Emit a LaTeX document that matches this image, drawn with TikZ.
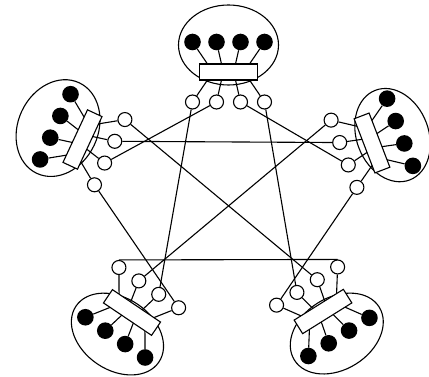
\documentclass[tikz,border=0pt]{standalone}
\tikzset{
  lnk/.style={line width=1.1pt},
  blackdot/.style={circle,fill=black,inner sep=0pt,minimum size=16.6pt},
  whitecirc/.style={circle,draw,line width=1.1pt,fill=white,inner sep=0pt,minimum size=14pt},
  plate/.style={draw,line width=1.1pt,fill=white}
}
\newcommand\mygroup[7]{%
  \begin{scope}[shift={(#2,#3)},rotate=#4]
    \draw[lnk] (0,#5) ellipse [x radius=#6, y radius=#7];
    \foreach \k/\u/\w in {1/-36/-21,2/-12/-7,3/12/7,4/36/21}{
      \node[blackdot] (#1d\k) at (\u,-30) {};
      \node[whitecirc] (#1\k) at (\u,30) {};
      \draw[lnk] (#1d\k) -- (\w,-8);
      \draw[lnk] (\w,8) -- (#1\k);
    }
    \draw[plate] (-29,-8) rectangle (29,8);
  \end{scope}%
}
\begin{document}
\begin{tikzpicture}[x=1pt,y=-1pt]
  \useasboundingbox (0,0) rectangle (429,377);
  \mygroup{T}{228.5}{72}{0}{-27}{50}{40}
  \mygroup{L}{82.5}{139.5}{65}{-27}{50}{40}
  \mygroup{R}{372}{143}{-69}{-22}{48}{36}
  \mygroup{BL}{132}{312.5}{146}{-26}{50}{36}
  \mygroup{BR}{323}{311.5}{-148}{-26}{50}{36}
  \draw[lnk] (T1) -- (BL2);
  \draw[lnk] (T2) -- (L2);
  \draw[lnk] (T3) -- (R3);
  \draw[lnk] (T4) -- (BR3);
  \draw[lnk] (L4) -- (BR2);
  \draw[lnk] (L3) -- (R2);
  \draw[lnk] (L1) -- (BL1);
  \draw[lnk] (R1) -- (BL3);
  \draw[lnk] (R4) -- (BR4);
  \draw[lnk] (BL4.north) -- (BR1.north);
\end{tikzpicture}
\end{document}
